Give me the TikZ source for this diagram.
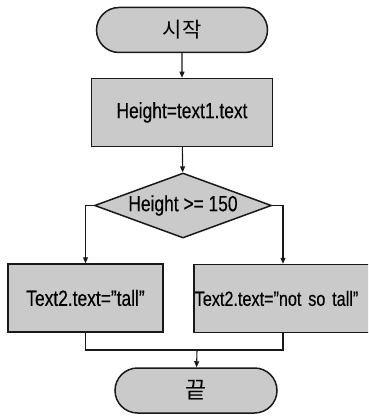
\documentclass[tikz,border=0pt]{standalone}
\usepackage{fontspec}
\setmainfont{Liberation Sans}[FakeStretch=0.79, FakeBold=0.3]
\newfontfamily\kfont{Noto Sans CJK KR}
\usetikzlibrary{shapes.geometric,shapes.misc,arrows.meta}
\definecolor{dithergrey}{RGB}{202,202,202}
\definecolor{inkdark}{RGB}{25,25,25}
\tikzset{
    termbox/.style={draw=inkdark, line width=1.5pt, rounded rectangle,
                    fill=dithergrey, minimum width=#1, minimum height=45pt,
                    inner sep=0pt, font=\kfont\fontsize{21}{23}\selectfont},
    procbox/.style={draw=inkdark, line width=1.5pt, fill=dithergrey,
                    minimum width=#1, minimum height=68pt, inner sep=0pt,
                    font=\fontsize{22}{24}\selectfont},
    testbox/.style={draw=inkdark, line width=1.5pt, diamond, aspect=2.72,
                    fill=dithergrey, minimum width=177pt, minimum height=65pt,
                    inner sep=0pt, font=\fontsize{22}{24}\selectfont},
}

\begin{document}
\begin{tikzpicture}[
    x=1pt, y=-1pt,
    arr/.style={-{Triangle[length=6pt,width=5pt]}, line width=1.1pt, inkdark},
    seg/.style={line width=1.1pt, inkdark}
]
    \clip (0,0) rectangle (368,419);
    % terminals and steps
    \node[termbox=171pt] (start) at (182,30) {시작};
    \node[procbox=181pt] (assign) at (182,112.5) {Height=text1.text};
    \node[testbox] (test) at (183,205.5) {Height >= 150};
    \node[procbox=155pt] (tall) at (85.5,298) {Text2.text="tall"};
    \node[procbox=181pt, anchor=west, text width=180pt, align=left,
          inner xsep=1pt, font=\fontsize{20.5}{23}\selectfont]
          (nottall) at (193,298.5) {Text2.text="not so tall"};
    \node[termbox=162pt] (stop) at (196,390.5) {\fontsize{23}{25}\selectfont 끝};
    % helper points
    \coordinate (rcol) at (283,0);
    \coordinate (join) at (197,350);
    % flow
    \draw[arr] (start) -- (assign);
    \draw[arr] (assign) -- (test);
    \draw[arr] (test.west) -| (tall.north);
    \draw[arr] (test.east) -| (rcol |- nottall.north);
    \draw[seg] (tall.south) |- (join);
    \draw[seg] (rcol |- nottall.south) |- (join);
    \draw[arr] (join) -- (stop);
\end{tikzpicture}
\end{document}
